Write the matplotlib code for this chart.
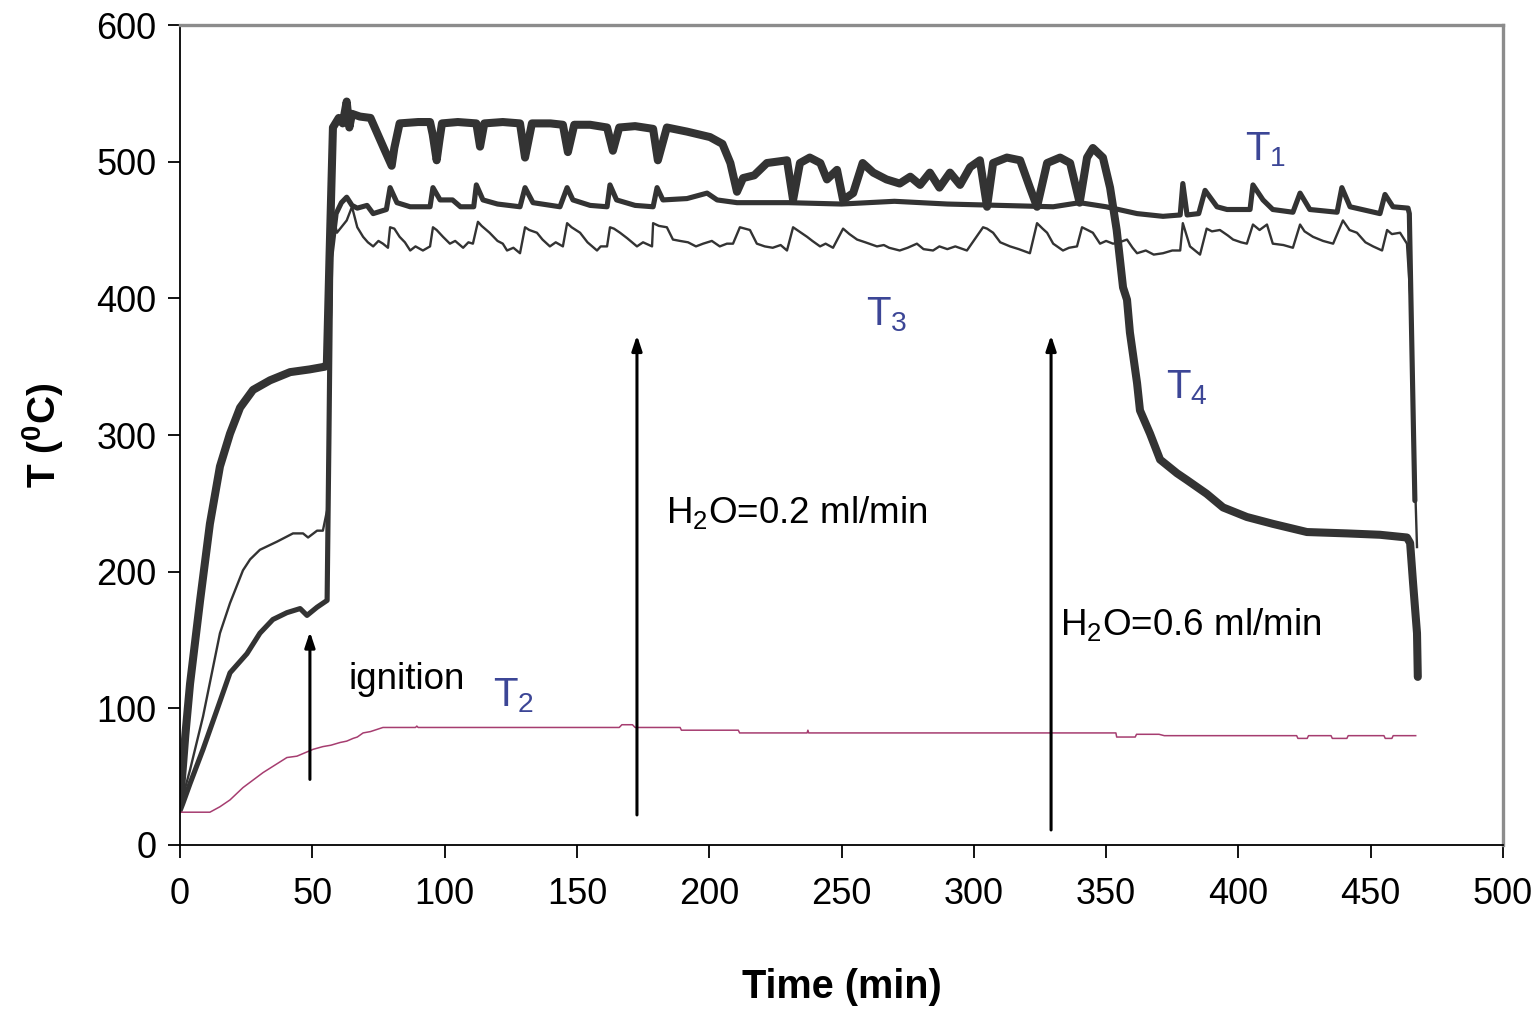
import matplotlib
matplotlib.use("Agg")
import matplotlib.pyplot as plt

plt.rcParams['font.family'] = ['Liberation Sans', 'DejaVu Sans']
plt.rcParams['mathtext.fontset'] = 'custom'
plt.rcParams['mathtext.rm'] = 'Liberation Sans'
plt.rcParams['mathtext.it'] = 'Liberation Sans'
plt.rcParams['mathtext.bf'] = 'Liberation Sans:bold'

# ---- T4 (outlet zone, thickest trace) ----
t4_time = [0, 1, 2, 3.8, 7.6, 11.3, 15.1, 18.9, 22.7, 27.6, 34, 41.6, 49, 54.8, 55.5, 56.5,
           57.8, 60, 61.5, 63, 64, 65, 68, 72, 74.5, 77, 80, 81, 83, 90, 94.5, 95.5, 97, 98,
           99, 105, 112, 113.4, 115, 122, 128.5, 130.4, 133, 140, 144.7, 146.6, 149, 155,
           161.4, 163.6, 166, 172, 178.8, 180.6, 184, 191.6, 200.3, 205, 208, 210.5, 212.8,
           217, 221.8, 229.4, 231.7, 234.3, 238, 242, 244.5, 248.3, 250.6, 254.4, 258, 262,
           267, 272, 276, 279.7, 283.4, 287, 291, 294.8, 298.6, 302.3, 305, 307.3, 312.5,
           317.5, 321.2, 323.9, 327.7, 332.6, 336.4, 340, 342.8, 345, 348.8, 351.5, 354,
           356.4, 357.9, 359, 361.7, 362.8, 366.6, 370.4, 376.8, 380.6, 388, 394.2, 403.2,
           413, 425.9, 441, 453.5, 463.7, 464.9, 466, 467.5, 467.8]
t4_temp = [32, 55, 80, 118, 179, 235, 277, 301, 320, 333, 340, 346, 348, 350, 352, 430,
           525, 532, 528, 544, 525, 535, 533, 532, 521, 510, 497, 510, 528, 529, 529, 520, 501, 515,
           528, 529, 528, 511, 528, 529, 528, 503, 528, 528, 527, 507, 527, 527,
           525, 508, 525, 526, 524, 501, 525, 522, 518, 513, 499, 478, 488,
           490, 499, 501, 472, 499, 503, 499, 487, 494, 472, 477, 499, 492,
           487, 484, 489, 483, 492, 481, 492, 483, 496, 501, 467, 499, 503,
           501, 481, 467, 499, 503, 499, 470, 503, 510, 503, 481, 450,
           408, 399, 375, 338, 318, 301, 282, 272, 267, 257, 247, 240,
           235, 229, 228, 227, 225, 221, 192, 155, 123]

# ---- T1 ----
t1_time = [0, 1, 3.8, 8.7, 14, 18.9, 25.3, 30.2, 35.1, 40.4, 45.4, 48, 51.8, 55.6, 56.3, 57,
           59, 61, 63, 65, 67, 70.7, 73, 78, 79.4, 82, 87, 94.5, 95.6, 98.3, 103, 106, 111,
           112, 114.5, 120, 128.5, 130.4, 133.4, 143.6, 146.3, 148.5, 155, 161.4, 162.5, 165,
           172, 178.8, 180.3, 182.5, 191.6, 199.2, 203, 210.5, 230, 250, 270, 290, 310, 330,
           340, 350, 361.7, 371.5, 378, 379, 380.6, 385, 387.4, 391.9, 395.7, 404.4, 405.5,
           409.3, 413, 420.6, 423.3, 427, 437.3, 439.1, 442.2, 453.5, 455.4, 458.4, 464.1,
           464.6, 465.2, 466.2, 466.7]
t1_temp = [25, 30, 45, 70, 99, 126, 140, 155, 165, 170, 173, 168, 174, 179, 300, 430,
           462, 470, 474, 468, 466, 468, 462, 465, 481, 470, 467, 467, 481, 472, 472, 467, 467,
           483, 472, 469, 467, 481, 470, 467, 481, 472, 468, 467, 483, 472,
           468, 467, 481, 472, 473, 477, 472, 470, 470, 469, 471, 469, 468, 467,
           470, 467, 462, 460, 461, 484, 461, 462, 479, 467, 465, 465, 483,
           472, 465, 463, 477, 465, 463, 481, 467, 462, 476, 467, 466,
           462, 400, 300, 252]

# ---- T3 ----
t3_time = [0, 1, 3.8, 8.7, 15.1, 18.9, 23.8, 26.5, 30.2, 36.7, 42.7, 46.5, 48.4, 51.8, 54,
           55.6, 56.5, 57.5, 58.5, 59.3, 63, 65, 67, 69.2, 71, 73, 75, 76.7, 78.6, 79.4, 81, 83,
           85, 87, 89, 91.8, 94.5, 95.6, 97, 99.4, 102, 104, 107, 109, 110.7, 112.6, 114, 117,
           120, 122, 123.6, 126, 128.5, 130.4, 132, 134.9, 137, 139.8, 142, 144.7, 146.3, 148,
           151.2, 154, 157.6, 159, 161.4, 162.5, 164, 166.3, 169, 172.7, 175, 178.4, 178.8,
           181, 184, 186.3, 189, 192, 195, 197.7, 201, 204, 206.7, 209, 211.6, 215.4,
           218, 221, 224, 227, 229.4, 231.7, 234, 237, 239, 241.9, 244, 246.8, 250.6, 253,
           255.9, 259, 263.4, 266, 268, 272, 275, 278.5, 281, 284.6, 287, 290, 293, 297.4,
           303.5, 305, 307.3, 310, 313.7, 317, 321.2, 323.9, 326, 327.7, 330, 333.7, 336,
           339, 340.9, 343, 345, 347.7, 350, 352.6, 355, 357.9, 360, 361.7, 365, 368, 371.5,
           375, 378, 379, 381.7, 385.5, 388, 390, 393, 396, 398, 401, 403.2, 405.5, 408,
           410.8, 413, 417, 420.6, 423.3, 425, 428.2, 432, 435.8, 439.5, 442, 444.8, 448,
           450.9, 454.3, 456.2, 458, 461.1, 463.7, 465, 466, 467, 467.5]
t3_temp = [25, 35, 55, 94, 155, 177, 201, 209, 216, 222, 228, 228, 225, 230, 230,
           245, 330, 440, 455, 448, 457, 467, 452, 445, 441, 438, 442, 440, 437, 452, 451, 445,
           441, 435, 438, 435, 438, 452, 450, 445, 440, 442, 437, 441, 440, 456, 453, 448,
           442, 440, 435, 437, 433, 452, 450, 448, 443, 438, 441, 438, 455, 452,
           448, 441, 435, 438, 438, 452, 451, 448, 444, 438, 441, 438, 455,
           453, 452, 443, 442, 441, 438, 440, 442, 438, 440, 440, 452, 450,
           440, 438, 437, 439, 435, 452, 449, 445, 442, 438, 440, 437, 451, 447,
           443, 441, 438, 439, 437, 435, 437, 440, 436, 435, 438, 436, 438, 435,
           452, 451, 448, 441, 438, 436, 433, 455, 451, 448, 440, 435, 437,
           438, 452, 450, 448, 440, 442, 440, 441, 443, 437, 433, 435, 432, 433,
           435, 435, 455, 438, 432, 451, 449, 450, 446, 443, 441, 440, 454, 450,
           454, 440, 439, 437, 454, 449, 445, 442, 440, 457, 450, 448, 441,
           438, 435, 450, 447, 448, 440, 400, 325, 250, 218]

# ---- T2 ----
t2_time = [0, 11.3, 15.1, 18.9, 23.8, 31.4, 40.4, 44.2, 50.3, 54, 57, 60.5, 63, 65.4, 67,
           69.2, 72, 76.7, 89, 89.5, 90, 166, 167, 171, 172, 189, 189.5, 211, 211.5, 237,
           237.3, 237.6, 353.7, 354, 361, 361.5, 370, 372, 422, 422.5, 426, 426.5, 435,
           435.5, 441, 441.5, 455, 455.5, 458, 458.5, 467]
t2_temp = [24, 24, 28, 33, 42, 53, 64, 65, 70, 72, 73, 75, 76, 78, 79,
           82, 83, 86, 86, 87, 86, 86, 88, 88, 86, 86, 84, 84, 82, 82,
           84, 82, 82, 79, 79, 81, 81, 80, 80, 78, 78, 80, 80,
           78, 78, 80, 80, 78, 78, 80, 80]

# ---- annotations ----
arrow_times = [49.1, 172.7, 329.2]
arrow_tails = [48, 22, 11]
arrow_heads = [156, 373, 373]
note_texts = ['ignition', r'H$_2$O=0.2 ml/min', r'H$_2$O=0.6 ml/min']
note_x = [63.5, 183.7, 332.6]
note_y = [121, 243, 161]

series_labels = [r'T$_1$', r'T$_2$', r'T$_3$', r'T$_4$']
label_x = [402.5, 118.3, 259.3, 372.6]
label_y = [501, 101.7, 380, 327]

x_ticks = [0, 50, 100, 150, 200, 250, 300, 350, 400, 450, 500]
y_ticks = [0, 100, 200, 300, 400, 500, 600]

fig = plt.figure(figsize=(15.4, 10.13), dpi=100)
ax = fig.add_axes([180 / 1540, 1 - 845 / 1013, (1503 - 180) / 1540, (845 - 25) / 1013])

dark = '#333333'
ax.plot(t3_time, t3_temp, color=dark, lw=1.7, solid_joinstyle='round')
ax.plot(t1_time, t1_temp, color=dark, lw=3.7, solid_joinstyle='round', solid_capstyle='round')
ax.plot(t4_time, t4_temp, color=dark, lw=5.8, solid_joinstyle='round', solid_capstyle='round')
ax.plot(t2_time, t2_temp, color='#a63d70', lw=1.1)

for tx, t0, t1v in zip(arrow_times, arrow_tails, arrow_heads):
    ax.annotate('', xy=(tx, t1v), xytext=(tx, t0),
                arrowprops=dict(arrowstyle='-|>,head_length=0.9,head_width=0.3',
                                color='black', lw=2.2, shrinkA=0, shrinkB=0))

for s, x, y in zip(note_texts, note_x, note_y):
    ax.text(x, y, s, fontsize=26.5, color='black', ha='left', va='center')

for s, x, y in zip(series_labels, label_x, label_y):
    ax.text(x, y, s, fontsize=29, color='#3c4696', ha='left', va='baseline')

ax.set_xlim(0, 500)
ax.set_ylim(0, 600)
ax.set_xticks(x_ticks)
ax.set_yticks(y_ticks)
ax.tick_params(axis='both', direction='out', length=9, width=1.3, labelsize=26,
               colors='black', pad=8)
ax.tick_params(axis='x', pad=14)

for side in ['left', 'bottom']:
    ax.spines[side].set_color('black')
    ax.spines[side].set_linewidth(1.3)
for side in ['top', 'right']:
    ax.spines[side].set_color('#8c8c8c')
    ax.spines[side].set_linewidth(2.4)

ax.set_xlabel('Time (min)', fontsize=28.5, fontweight='bold', labelpad=40)
ax.set_ylabel(r'T ($\mathbf{^0}$C)', fontsize=28, fontweight='bold', labelpad=22)

fig.savefig('out.png', dpi=100)
